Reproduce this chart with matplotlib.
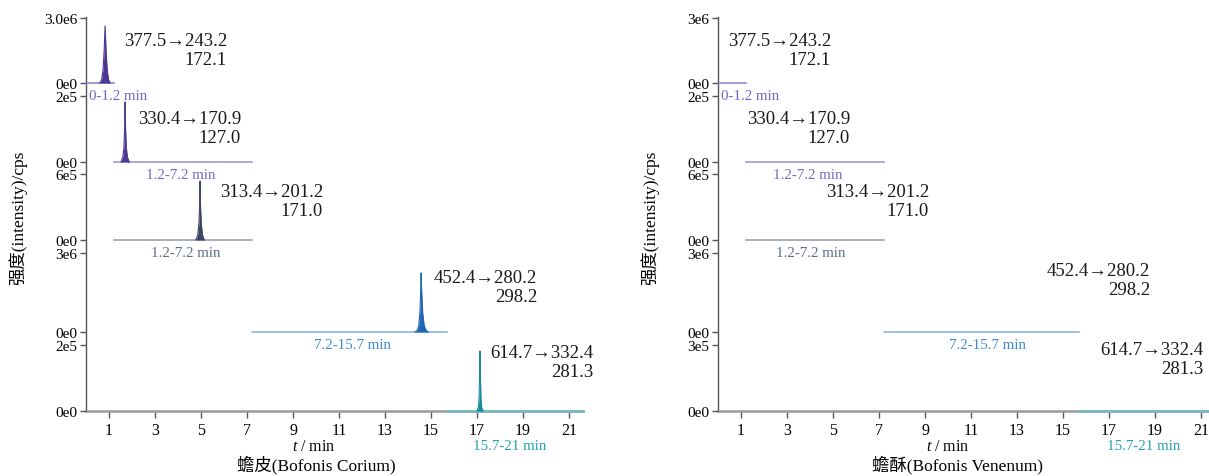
"""MRM chromatograms of five toad-derived markers in Bofonis Corium vs Bofonis Venenum,
stacked by acquisition window."""
import matplotlib
matplotlib.use("Agg")
import matplotlib.pyplot as plt

plt.rcParams["font.family"] = ["Liberation Serif", "Noto Sans CJK SC"]
plt.rcParams["mathtext.fontset"] = "custom"
plt.rcParams["mathtext.it"] = "Liberation Serif:italic"
plt.rcParams["mathtext.rm"] = "Liberation Serif"

# ── data ──────────────────────────────────────────────────────────────────────
windows = [(0.0, 1.2), (1.2, 7.2), (1.2, 7.2), (7.2, 15.7), (15.7, 21.6)]
window_labels = ["0-1.2 min", "1.2-7.2 min", "1.2-7.2 min", "7.2-15.7 min", "15.7-21 min"]
transitions = ["377.5→243.2\n172.1", "330.4→170.9\n127.0", "313.4→201.2\n171.0",
               "452.4→280.2\n298.2", "614.7→332.4\n281.3"]

corium_ymax = [3.0e6, 2e5, 6e5, 3e6, 2e5]
corium_ylabels = ["3.0e6", "2e5", "6e5", "3e6", "2e5"]
venenum_ymax = [3e6, 2e5, 6e5, 3e6, 3e5]
venenum_ylabels = ["3e6", "2e5", "6e5", "3e6", "3e5"]

# peaks (time in min, intensity in cps)
peak1_t = [0.60, 0.68, 0.74, 0.79, 0.83, 0.87, 0.92, 0.98, 1.05]
peak1_i = [0, 0.15e6, 0.60e6, 1.50e6, 2.63e6, 1.50e6, 0.60e6, 0.15e6, 0]
peak2_t = [1.52, 1.60, 1.65, 1.68, 1.70, 1.72, 1.75, 1.80, 1.88]
peak2_i = [0, 0.15e5, 0.45e5, 1.00e5, 1.82e5, 1.00e5, 0.45e5, 0.15e5, 0]
peak3_t = [4.78, 4.86, 4.91, 4.94, 4.96, 4.98, 5.01, 5.06, 5.14]
peak3_i = [0, 0.5e5, 1.5e5, 3.0e5, 5.36e5, 3.0e5, 1.5e5, 0.5e5, 0]
peak4_t = [14.30, 14.40, 14.47, 14.52, 14.55, 14.57, 14.60, 14.64, 14.70, 14.78, 14.88]
peak4_i = [0, 0.06e6, 0.25e6, 0.80e6, 1.50e6, 2.24e6, 1.40e6, 0.70e6, 0.25e6, 0.07e6, 0]
peak5_t = [17.00, 17.06, 17.09, 17.11, 17.13, 17.15, 17.17, 17.20, 17.26]
peak5_i = [0, 0.12e5, 0.40e5, 1.00e5, 1.82e5, 1.00e5, 0.40e5, 0.12e5, 0]

corium_peaks = [(peak1_t, peak1_i), (peak2_t, peak2_i), (peak3_t, peak3_i),
                (peak4_t, peak4_i), (peak5_t, peak5_i)]
venenum_peaks = [([], [])] * 5   # nothing detected

x_ticks = list(range(1, 22, 2))

# ── styling ───────────────────────────────────────────────────────────────────
fill_colors = ["#4b3691", "#4b3a8e", "#3b4762", "#1c68b2", "#1a8b9f"]
line_colors = ["#8c7cc6", "#9a8fcc", "#8e98ae", "#7fb2de", "#74bbc6"]
label_colors = ["#7b62c2", "#7a66c6", "#5e6e8e", "#3b8bd1", "#25a0b8"]

W, H = 1209, 477
XMAX = 21.6
PX_PER_MIN = 23.0
band_px = [(19, 84), (97, 163), (175, 241), (254, 333), (346, 412)]   # (top, base)

fig = plt.figure(figsize=(W / 100, H / 100), dpi=100)


def draw_panel(left_px, ymax, ylabels, peaks, text_pos, label_x, xlabel_x, title, title_x):
    width = XMAX * PX_PER_MIN / W
    left = left_px / W

    bg = fig.add_axes([left, (H - 412) / H, width, (412 - 18) / H])
    bg.set_xlim(0, XMAX)
    bg.set_ylim(0, 1)
    bg.patch.set_visible(False)
    for s in ("top", "right"):
        bg.spines[s].set_visible(False)
    bg.spines["left"].set_color("#555555")
    bg.spines["left"].set_linewidth(1.0)
    bg.spines["bottom"].set_color("#9a9a9a")
    bg.spines["bottom"].set_linewidth(1.8)
    bg.set_yticks([])
    bg.set_xticks(x_ticks)
    bg.tick_params(axis="x", direction="out", length=5, width=1, color="#555555",
                   labelsize=11.5, pad=3)

    bg.annotate(r"$t$ / min", xy=(xlabel_x, 0), xycoords=bg.get_xaxis_transform(),
                xytext=(0, -35 * 0.72), textcoords="offset points",
                fontsize=11.5, ha="center", va="center")

    for k, (top, base) in enumerate(band_px):
        ax = fig.add_axes([left, (H - base) / H, width, (base - top) / H])
        ax.patch.set_visible(False)
        for s in ax.spines.values():
            s.set_visible(False)
        ax.set_xlim(0, XMAX)
        ax.set_ylim(0, ymax[k])
        ax.set_xticks([])
        ax.set_yticks([0, ymax[k]])
        ax.set_yticklabels(["0e0", ylabels[k]])
        ax.tick_params(axis="y", direction="out", length=4, width=1, color="#555555",
                       labelsize=11, pad=2)

        w0, w1 = windows[k]
        ax.plot([w0, w1], [0, 0], color=line_colors[k], lw=1.8 if k == 4 else 1.1,
                clip_on=False, zorder=2)
        pt, pi = peaks[k]
        if len(pt):
            ax.fill_between(pt, 0, pi, color=fill_colors[k], lw=0, clip_on=False, zorder=3)
            ax.plot(pt, pi, color=fill_colors[k], lw=0.8, clip_on=False, zorder=3)

        tx, ty = text_pos[k]
        ax.text(tx, ty, transitions[k], transform=ax.get_xaxis_transform(),
                ha="right", va="center", multialignment="right", fontsize=13.5,
                color="#1a1a1a", linespacing=1.15)

        if k == 4:
            ax.annotate(window_labels[k], xy=(label_x[k], 0),
                        xycoords=ax.get_xaxis_transform(), xytext=(0, -35 * 0.72),
                        textcoords="offset points", ha="center", va="center",
                        color=label_colors[k], fontsize=10.8)
        else:
            ha = "left" if k == 0 else "center"
            ax.annotate(window_labels[k], xy=(label_x[k], 0),
                        xycoords=ax.get_xaxis_transform(), xytext=(0, -4),
                        textcoords="offset points", ha=ha, va="top",
                        color=label_colors[k], fontsize=10.8)

    bg.annotate(title, xy=(title_x, 0), xycoords=bg.get_xaxis_transform(),
                xytext=(0, -53 * 0.72), textcoords="offset points",
                ha="center", va="center", fontsize=12.5)
    fig.text((left_px - 68) / W, 1 - 218 / H, "强度(intensity)/cps", rotation=90,
             ha="center", va="center", fontsize=12.5)


draw_panel(86, corium_ymax, corium_ylabels, corium_peaks,
           text_pos=[(6.13, 0.51), (6.74, 0.51), (10.30, 0.59), (19.61, 0.57), (22.04, 0.74)],
           label_x=[0.12, 4.1, 4.35, 11.6, 18.4], xlabel_x=9.9,
           title="蟾皮(Bofonis Corium)", title_x=10.0)
draw_panel(718, venenum_ymax, venenum_ylabels, venenum_peaks,
           text_pos=[(4.91, 0.51), (5.74, 0.51), (9.17, 0.59), (18.78, 0.66), (21.09, 0.79)],
           label_x=[0.12, 3.9, 4.05, 11.7, 18.5], xlabel_x=10.0,
           title="蟾酥(Bofonis Venenum)", title_x=10.4)

fig.savefig("out.png", dpi=100)
